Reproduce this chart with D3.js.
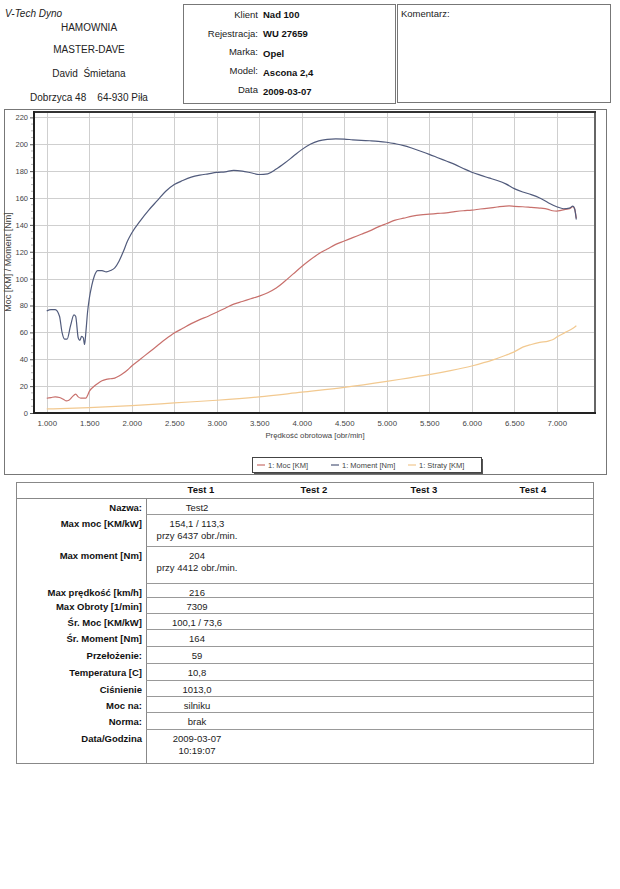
<!DOCTYPE html>
<html><head><meta charset="utf-8">
<script src="https://cdn.jsdelivr.net/npm/d3@7"></script>
<style>
html,body{margin:0;padding:0;background:#fff;}
svg{display:block;font-family:"Liberation Sans",Arial,sans-serif;}
text{white-space:pre;}
</style></head>
<body><svg id="c" width="620" height="889"></svg>
<script>
// ---------- DATA ----------
const rpmTicks = [1000,1500,2000,2500,3000,3500,4000,4500,5000,5500,6000,6500,7000];
const rpmTickLabels = ["1.000","1.500","2.000","2.500","3.000","3.500","4.000","4.500","5.000","5.500","6.000","6.500","7.000"];
const yTicks = [0,20,40,60,80,100,120,140,160,180,200,220];

const momentRpm = [1000,1050,1100,1150,1180,1210,1240,1280,1320,1340,1370,1390,1410,1430,1445,1460,1480,1500,1530,1560,1600,1650,1700,1750,1800,1850,1900,1950,2000,2100,2200,2300,2400,2500,2600,2700,2800,2900,3000,3100,3200,3300,3400,3500,3600,3700,3800,3900,4000,4100,4200,4300,4400,4500,4600,4700,4800,4900,5000,5100,5200,5300,5400,5500,5600,5700,5800,5900,6000,6100,6200,6300,6400,6500,6600,6700,6800,6900,7000,7080,7150,7190,7210,7230];
const momentNm = [76,77,77,72,60,55,55,65,73,72,56,54,57,56,51,60,75,85,95,102,106,106,105,106,108,113,120,128,134,143,151,158,165,170,173,175.5,177,178,179,179.5,180.5,180,178.8,177.5,178,181.5,186,191,196,200,202.5,203.6,204,203.8,203.3,202.9,202.6,202.2,201.5,200.4,199,197,194.8,192.5,190,187.5,185,182,179.2,177,175,173,170.5,167,164.5,162.5,160,156.5,153.5,152,152.5,154,152,144];

const mocRpm = [1000,1050,1100,1150,1200,1230,1260,1300,1340,1370,1400,1430,1460,1480,1500,1550,1600,1650,1700,1750,1800,1850,1900,1950,2000,2100,2200,2300,2400,2500,2600,2700,2800,2900,3000,3100,3200,3300,3400,3500,3600,3700,3800,3900,4000,4100,4200,4300,4400,4500,4600,4700,4800,4900,5000,5100,5200,5300,5400,5500,5600,5700,5800,5900,6000,6100,6200,6300,6400,6440,6500,6600,6700,6800,6900,6950,7000,7050,7100,7150,7190,7210,7230];
const mocKM = [11,11.5,12,11.5,10,9,9.5,12,14,12,11,11,11,13,16,19.5,22,24,25,25.5,26,27.5,29.5,32,35,40,45,50,55,59.5,63,66.5,69.5,72,75,78,81,83,85,87,89.5,93,98,103.5,109,114,118.5,122,125.5,128,130.5,133,135.5,138.5,141,143.5,145,146.5,147.5,148,148.5,149,149.8,150.5,151,151.8,152.5,153.3,154,154.1,153.8,153.5,153,152.5,151.5,150.5,150.3,150.8,151.5,152,153.5,152,145];

const stratyRpm = [1000,1500,2000,2500,3000,3500,4000,4500,5000,5250,5500,5750,6000,6250,6400,6500,6600,6700,6800,6900,6950,7000,7100,7200,7230];
const stratyKM = [3,4,5.5,7.5,9.5,12,15.5,19,23.5,26,28.5,31.5,35,39.5,43,45.5,49,51,52.5,53.5,54.5,56.5,60,63.5,65];

const seriesNames = ["1: Moc [KM]","1: Moment [Nm]","1: Straty [KM]"];
const seriesColors = ["#c8706c","#515b7c","#f2c990"];

const headerLeft = ["HAMOWNIA","MASTER-DAVE","David  Śmietana","Dobrzyca 48    64-930 Piła"];
const infoLabels = ["Klient","Rejestracja:","Marka:","Model:","Data"];
const infoValues = ["Nad 100","WU 27659","Opel","Ascona 2,4","2009-03-07"];

const testHeaders = ["Test 1","Test 2","Test 3","Test 4"];
const rowLabels = ["Nazwa:","Max moc [KM/kW]","Max moment [Nm]","Max prędkość [km/h]","Max Obroty [1/min]","Śr. Moc [KM/kW]","Śr. Moment [Nm]","Przełożenie:","Temperatura [C]","Ciśnienie","Moc na:","Norma:","Data/Godzina"];
const test1Values = [["Test2"],["154,1 / 113,3","przy 6437 obr./min."],["204","przy 4412 obr./min."],["216"],["7309"],["100,1 / 73,6"],["164"],["59"],["10,8"],["1013,0"],["silniku"],["brak"],["2009-03-07","10:19:07"]];

// ---------- LAYOUT ----------
const svg = d3.select("#c");
const font = "Liberation Sans, Arial, sans-serif";

// Header left
svg.append("text").attr("x",5).attr("y",17).attr("font-size",10).attr("font-style","italic").attr("fill","#222").text("V-Tech Dyno");
const hlY = [31,53,77,101];
headerLeft.forEach((t,i)=>{
  svg.append("text").attr("x",89).attr("y",hlY[i]).attr("text-anchor","middle").attr("font-size",10).attr("fill","#222")
    .attr("xml:space","preserve").text(t);
});

// Info boxes
svg.append("rect").attr("x",183.5).attr("y",4.5).attr("width",212).attr("height",99).attr("fill","none").attr("stroke","#777").attr("stroke-width",1);
svg.append("rect").attr("x",397.5).attr("y",4.5).attr("width",213).attr("height",98).attr("fill","none").attr("stroke","#777").attr("stroke-width",1);
svg.append("text").attr("x",401).attr("y",17).attr("font-size",9.5).attr("fill","#222").text("Komentarz:");
const ilY = [18,37,55,74,93];
const ivY = [18,37,57,76,95];
infoLabels.forEach((t,i)=>{
  svg.append("text").attr("x",258).attr("y",ilY[i]).attr("text-anchor","end").attr("font-size",9.5).attr("fill","#222").text(t);
  svg.append("text").attr("x",263).attr("y",ivY[i]).attr("font-size",9.5).attr("font-weight","bold").attr("fill","#111").text(infoValues[i]);
});

// Chart outer frame
svg.append("rect").attr("x",4.5).attr("y",109.5).attr("width",602).attr("height",365).attr("fill","none").attr("stroke","#777").attr("stroke-width",1);

const x = d3.scaleLinear().domain([850,7450]).range([34,595]);
const y = d3.scaleLinear().domain([0,224]).range([413,112]);

const plot = svg.append("g");
plot.append("rect").attr("x",34).attr("y",112).attr("width",561).attr("height",301).attr("fill","#fff");
// grid
plot.selectAll(".vg").data(rpmTicks).enter().append("line")
  .attr("x1",d=>Math.round(x(d))+0.5).attr("x2",d=>Math.round(x(d))+0.5)
  .attr("y1",112).attr("y2",413).attr("stroke","#cfcfcf").attr("stroke-width",1);
plot.selectAll(".hg").data(yTicks.filter(d=>d>0)).enter().append("line")
  .attr("y1",d=>Math.round(y(d))+0.5).attr("y2",d=>Math.round(y(d))+0.5)
  .attr("x1",34).attr("x2",595).attr("stroke","#cfcfcf").attr("stroke-width",1);

// lines
const mk = (xs,ys)=> xs.map((r,i)=>[r,ys[i]]);
const lineGen = d3.line().x(d=>x(d[0])).y(d=>y(d[1])).curve(d3.curveMonotoneX);
const seriesData = [mk(mocRpm,mocKM), mk(momentRpm,momentNm), mk(stratyRpm,stratyKM)];
[2,0,1].forEach(i=>{
  plot.append("path").attr("d",lineGen(seriesData[i])).attr("fill","none")
    .attr("stroke",seriesColors[i]).attr("stroke-width",1.2);
});

// plot frame
plot.append("line").attr("x1",595).attr("x2",595).attr("y1",111).attr("y2",414).attr("stroke","#666").attr("stroke-width",2);
plot.append("line").attr("x1",33).attr("x2",596).attr("y1",112).attr("y2",112).attr("stroke","#333").attr("stroke-width",2);
plot.append("line").attr("x1",34).attr("x2",34).attr("y1",111).attr("y2",414).attr("stroke","#222").attr("stroke-width",2);
plot.append("line").attr("x1",33).attr("x2",596).attr("y1",413).attr("y2",413).attr("stroke","#222").attr("stroke-width",2);

// y axis ticks / labels
const yAxis = d3.axisLeft(y).tickValues(yTicks).tickSize(3).tickPadding(2).tickFormat(d3.format("d"));
const ga = svg.append("g").attr("transform","translate(33,0)").call(yAxis);
ga.select(".domain").remove();
ga.selectAll("line").attr("stroke","#555");
ga.selectAll("text").attr("font-size",7.5).attr("fill","#444").attr("font-family",font);
svg.selectAll(".ymin").data(d3.range(5,224,5).filter(d=>d%20!==0)).enter().append("line")
  .attr("x1",31).attr("x2",33).attr("y1",d=>y(d)).attr("y2",d=>y(d)).attr("stroke","#888").attr("stroke-width",0.6);

// x axis labels
const xAxis = d3.axisBottom(x).tickValues(rpmTicks).tickSize(0).tickPadding(7).tickFormat((d,i)=>rpmTickLabels[i]);
const gx = svg.append("g").attr("transform","translate(0,413)").call(xAxis);
gx.select(".domain").remove();
gx.selectAll("text").attr("font-size",7.8).attr("fill","#444").attr("font-family",font);

// axis titles
svg.append("text").attr("x",315).attr("y",438).attr("text-anchor","middle").attr("font-size",7.8).attr("fill","#444").text("Prędkość obrotowa [obr/min]");
svg.append("text").attr("transform","translate(11,262) rotate(-90)").attr("text-anchor","middle").attr("font-size",9).attr("fill","#444").text("Moc [KM] / Moment [Nm]");

// legend
svg.append("rect").attr("x",254).attr("y",459).attr("width",229).attr("height",15).attr("fill","#555");
svg.append("rect").attr("x",252.5).attr("y",457.5).attr("width",229).attr("height",15).attr("fill","#fff").attr("stroke","#444").attr("stroke-width",1);
const legX = [257,331,408];
seriesNames.forEach((n,i)=>{
  svg.append("line").attr("x1",legX[i]).attr("x2",legX[i]+8).attr("y1",465).attr("y2",465).attr("stroke",seriesColors[i]).attr("stroke-width",1.2);
  svg.append("text").attr("x",legX[i]+11).attr("y",468).attr("font-size",7.5).attr("fill","#444").text(n);
});

// ---------- TABLE ----------
const tL=16, tR=593, tT=482, colX=146.5;
const rowBottoms = [514,546,583,597,613,629,646,663,680,696,712,729,763];
const headerLine = 498;
svg.append("rect").attr("x",tL+0.5).attr("y",tT+0.5).attr("width",tR-tL).attr("height",763-tT).attr("fill","none").attr("stroke","#888");
svg.append("line").attr("x1",tL).attr("x2",tR).attr("y1",headerLine+0.5).attr("y2",headerLine+0.5).attr("stroke","#888");
svg.append("line").attr("x1",colX).attr("x2",colX).attr("y1",headerLine).attr("y2",763).attr("stroke","#888");
rowBottoms.slice(0,-1).forEach(b=>{
  svg.append("line").attr("x1",colX).attr("x2",tR).attr("y1",b+0.5).attr("y2",b+0.5).attr("stroke","#999");
});
const thX = [201,314,424,533];
testHeaders.forEach((t,i)=>{
  svg.append("text").attr("x",thX[i]).attr("y",493).attr("text-anchor","middle").attr("font-size",9.5).attr("font-weight","bold").attr("fill","#111").text(t);
});
rowLabels.forEach((lab,i)=>{
  const top = i===0?headerLine:rowBottoms[i-1];
  const vals = test1Values[i];
  const y0 = top + 12.5;
  svg.append("text").attr("x",142).attr("y",y0).attr("text-anchor","end").attr("font-size",9.5).attr("font-weight","bold").attr("fill","#111").text(lab);
  vals.forEach((v,j)=>{
    svg.append("text").attr("x",197).attr("y",y0+j*12).attr("text-anchor","middle").attr("font-size",9.5).attr("fill","#222").text(v);
  });
});
</script>
</body></html>
